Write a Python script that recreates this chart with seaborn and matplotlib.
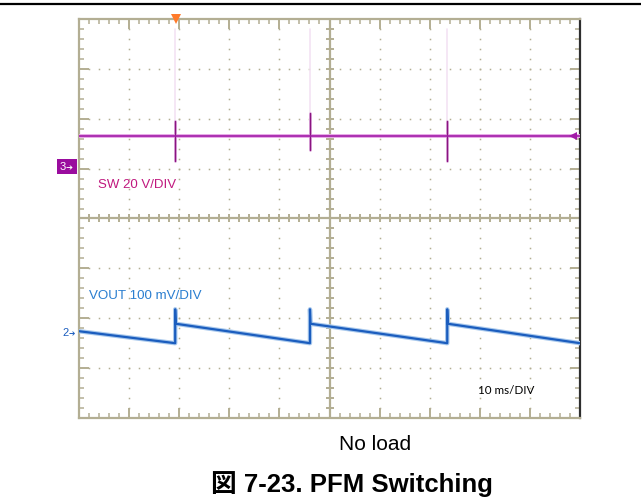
import matplotlib
matplotlib.use("Agg")
import matplotlib.pyplot as plt
import seaborn as sns
import numpy as np
from matplotlib.lines import Line2D
from matplotlib.patches import Rectangle

sns.set_style("white")
plt.rcParams['font.family'] = ['Liberation Sans', 'Noto Sans CJK JP', 'DejaVu Sans']

# ---- values (units: divisions) ----
pulse_t = [1.92, 4.61, 7.35]
sw_level = 5.65
sw_spike_hi = [5.95, 6.11, 5.95]
sw_spike_lo = [5.15, 5.37, 5.15]
sw_ghost_top = 7.8

vout_t = [0.0, 1.92, 1.92, 1.93, 4.61, 4.61, 4.62, 7.35, 7.35, 7.36, 10.0]
vout_v = [1.74, 1.50, 2.18, 1.89, 1.50, 2.18, 1.89, 1.50, 2.18, 1.89, 1.50]

ch3_ground = 5.0
ch2_ground = 1.72
trigger_t = 1.94

sw_label = "SW 20 V/DIV"
vout_label = "VOUT 100 mV/DIV"
time_label = "10 ms/DIV"
caption = "No load"
title = "図 7-23. PFM Switching"

W, H = 641, 498
fig = plt.figure(figsize=(W / 100, H / 100), dpi=100)
fig.patch.set_facecolor("white")


def fx(px):
    return px / W


def fy(py):
    return (H - py) / H


ax = fig.add_axes([fx(79), fy(418), 501 / W, 399 / H])
ax.set_xlim(0, 10)
ax.set_ylim(0, 8)

grid_c = "#B3AE93"

# dotted graticule
for gx in range(1, 10):
    if gx == 5:
        continue
    ys = np.arange(0.2, 8, 0.2)
    ax.plot(np.full_like(ys, gx), ys, ls="none", marker="s", ms=1.1, color=grid_c, mew=0)
for gy in range(1, 8):
    if gy == 4:
        continue
    xs = np.arange(0.2, 10, 0.2)
    ax.plot(xs, np.full_like(xs, gy), ls="none", marker="s", ms=1.1, color=grid_c, mew=0)

# center cross with ticks
ax.axvline(5, color=grid_c, lw=1.6, zorder=1)
ax.axhline(4, color=grid_c, lw=1.6, zorder=1)
tk = np.arange(0.2, 10, 0.2)
ax.plot(tk, np.full_like(tk, 4), ls="none", marker="|", ms=6, mew=1.4, color=grid_c)
tk = np.arange(0.2, 8, 0.2)
ax.plot(np.full_like(tk, 5), tk, ls="none", marker="_", ms=6, mew=1.4, color=grid_c)

# SW trace (channel 3)
for t in pulse_t:
    ax.plot([t, t], [sw_level, sw_ghost_top], color="#F3E3F3", lw=1.2, zorder=2)
ax.plot([0, 10], [sw_level, sw_level], color="#E6A8E6", lw=2.8, zorder=3, solid_capstyle="butt")
for t, hi, lo in zip(pulse_t, sw_spike_hi, sw_spike_lo):
    ax.plot([t, t], [lo, hi], color="#E0B0E0", lw=2.0, zorder=3)
    ax.plot([t, t], [lo, hi], color="#8A1480", lw=1.0, zorder=4)
sns.lineplot(x=[0.0, 10.0], y=[sw_level, sw_level], sort=False, estimator=None,
             color="#A21CA8", lw=1.2, ax=ax, zorder=4)

# VOUT trace (channel 2)
ax.plot(vout_t, vout_v, color="#A8C8EC", lw=3.2, zorder=3)
sns.lineplot(x=vout_t, y=vout_v, sort=False, estimator=None, color="#1B5DBE", lw=1.6, ax=ax, zorder=4)

# trigger marker and level arrow
ax.plot([trigger_t], [8.0], marker="v", ms=7, color="#FF7A2A", mew=0, clip_on=False, zorder=6)
ax.plot([9.86], [sw_level], marker="<", ms=6, color="#A21CA8", mew=0, clip_on=False, zorder=6)

# frame ticks
ax.set_xticks(range(0, 11))
ax.set_yticks(range(0, 9))
ax.set_xticks(np.arange(0, 10.01, 0.2), minor=True)
ax.set_yticks(np.arange(0, 8.01, 0.2), minor=True)
ax.tick_params(which="both", direction="in", top=True, right=True, bottom=True, left=True,
               labelbottom=False, labelleft=False, color=grid_c)
ax.tick_params(which="major", length=7, width=1.4)
ax.tick_params(which="minor", length=3.5, width=1.1)
for s in ["left", "top", "bottom"]:
    ax.spines[s].set_color(grid_c)
    ax.spines[s].set_linewidth(1.6)
ax.spines["right"].set_color("#2E2E2E")
ax.spines["right"].set_linewidth(1.6)

# channel markers
fig.add_artist(Rectangle((fx(57), fy(174)), 20 / W, 15 / H, facecolor="#9A0C9E",
                         edgecolor="none", transform=fig.transFigure))
fig.text(fx(60), fy(167), "3", color="white", fontsize=8, va="center", ha="left")
fig.text(fx(66), fy(167), "➔", color="white", fontsize=6, va="center", ha="left",
         family=["DejaVu Sans"])
fig.text(fx(62), fy(333), "2", color="#1B5DBE", fontsize=8, va="center", ha="left")
fig.text(fx(69), fy(333), "➔", color="#1B5DBE", fontsize=5.5, va="center", ha="left",
         family=["DejaVu Sans"])

# labels
fig.text(fx(98), fy(188), sw_label, color="#C0187E", fontsize=9.5, va="baseline")
fig.text(fx(89), fy(299), vout_label, color="#2A7ED0", fontsize=9.6, va="baseline")
fig.text(fx(478), fy(394), time_label, color="black", fontsize=8.4, va="baseline",
         family=["Lato", "DejaVu Sans"])
fig.text(fx(339), fy(450), caption, color="black", fontsize=15, va="baseline")
fig.text(fx(211), fy(492), title, color="black", fontsize=18.5, fontweight="bold",
         va="baseline")

# page rule at the top
fig.add_artist(Line2D([0, 1], [fy(4), fy(4)], color="black", lw=1.6, transform=fig.transFigure))

plt.savefig("out.png", dpi=100, facecolor="white")
